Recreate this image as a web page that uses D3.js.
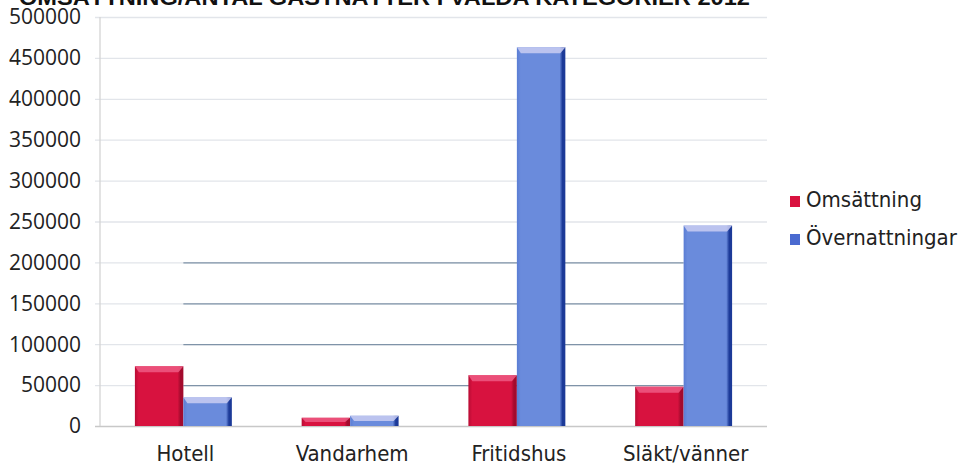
<!DOCTYPE html>
<html>
<head>
<meta charset="utf-8">
<script src="https://cdn.jsdelivr.net/npm/d3@7"></script>
<style>
  body { margin: 0; background: #fff; }
  svg { display: block; }
</style>
</head>
<body>
<div id="chart"></div>
<script>
// data
const categories = ["Hotell", "Vandarhem", "Fritidshus", "Släkt/vänner"];
const omsattning = [73000, 10000, 62000, 48000];
const overnattningar = [35000, 12500, 463000, 245000];
const seriesNames = ["Omsättning", "Övernattningar"];
const yTicks = [0, 50000, 100000, 150000, 200000, 250000, 300000, 350000, 400000, 450000, 500000];
const darkGridTicks = [50000, 100000, 150000, 200000];
const title = "OMSÄTTNING/ANTAL GÄSTNÄTTER I VALDA KATEGORIER 2012";

const width = 961, height = 465;
const margin = {top: 17, right: 194, bottom: 39, left: 100};

const svg = d3.select("#chart").append("svg")
    .attr("width", width)
    .attr("height", height);

const defs = svg.append("defs");

// horizontal shading for the bar faces
function faceGradient(id, edgeL, mid, edgeR) {
    let g = defs.append("linearGradient").attr("id", id)
        .attr("x1", 0).attr("x2", 1).attr("y1", 0).attr("y2", 0);
    g.append("stop").attr("offset", "0%").attr("stop-color", edgeL);
    g.append("stop").attr("offset", "8%").attr("stop-color", mid);
    g.append("stop").attr("offset", "88%").attr("stop-color", mid);
    g.append("stop").attr("offset", "94%").attr("stop-color", edgeR);
    g.append("stop").attr("offset", "100%").attr("stop-color", edgeR);
}
faceGradient("redFace", "#b80c34", "#d8123f", "#a30a2d");
faceGradient("blueFace", "#5a7dd4", "#6a8bdc", "#1c3a98");

const colors = {
    red: {face: "url(#redFace)", top: "#ee5a84", solid: "#d9123f"},
    blue: {face: "url(#blueFace)", top: "#c9ccf2", solid: "#4a6ad0"}
};

const x = d3.scaleBand()
    .domain(categories)
    .range([margin.left, width - margin.right])
    .paddingInner(0)
    .paddingOuter(0);

const xSeries = d3.scaleBand()
    .domain(seriesNames)
    .range([0, x.bandwidth()])
    .paddingOuter(0.72)
    .paddingInner(0);

const y = d3.scaleLinear()
    .domain([0, 500000])
    .range([height - margin.bottom, margin.top]);

// light gridlines
svg.append("g").selectAll("line")
    .data(yTicks)
    .join("line")
    .attr("x1", margin.left - 5)
    .attr("x2", width - margin.right)
    .attr("y1", d => y(d) + 0.5)
    .attr("y2", d => y(d) + 0.5)
    .attr("stroke", d => d === 0 ? "#c8c8c8" : "#e2e5ea")
    .attr("stroke-width", 1.3);

// darker scanned segments of the lower gridlines
const xStart = x(categories[0]) + x.bandwidth() / 2;
const xEnd = x(categories[categories.length - 1]) + x.bandwidth() / 2;
svg.append("g").selectAll("line")
    .data(darkGridTicks)
    .join("line")
    .attr("x1", xStart)
    .attr("x2", xEnd)
    .attr("y1", d => y(d) + 0.5)
    .attr("y2", d => y(d) + 0.5)
    .attr("stroke", "#7f93a8")
    .attr("stroke-width", 1.3);

// y axis line
svg.append("line")
    .attr("x1", margin.left).attr("x2", margin.left)
    .attr("y1", y(500000)).attr("y2", y(0))
    .attr("stroke", "#d4d4d4")
    .attr("stroke-width", 1.3);

// y tick labels
svg.append("g").selectAll("text")
    .data(yTicks)
    .join("text")
    .attr("x", 81)
    .attr("y", d => y(d))
    .attr("dy", "0.35em")
    .attr("text-anchor", "end")
    .attr("font-family", "Open Sans")
    .attr("font-size", 21)
    .attr("fill", "#222")
    .text(d => d);

// bars
const rows = categories.map((c, i) => ({cat: c, values: [
    {name: seriesNames[0], value: omsattning[i], col: colors.red},
    {name: seriesNames[1], value: overnattningar[i], col: colors.blue}
]}));

const groups = svg.append("g").selectAll("g")
    .data(rows)
    .join("g")
    .attr("transform", d => `translate(${x(d.cat)},0)`);

groups.each(function (d) {
    let g = d3.select(this);
    d.values.forEach(v => {
        let bx = xSeries(v.name), bw = xSeries.bandwidth();
        let top = y(v.value), bottom = y(0);
        let h = bottom - top;
        g.append("rect")
            .attr("x", bx).attr("y", top)
            .attr("width", bw).attr("height", h)
            .attr("fill", v.col.face);
        // bevelled cap
        let cap = Math.min(6, h / 2);
        g.append("path")
            .attr("d", `M${bx},${top} L${bx + bw},${top} L${bx + bw - 5},${top + cap} L${bx + 4},${top + cap} Z`)
            .attr("fill", v.col.top)
            .attr("opacity", 0.85);
    });
});

// category labels
svg.append("g").selectAll("text")
    .data(categories)
    .join("text")
    .attr("x", d => x(d) + x.bandwidth() / 2 + 2)
    .attr("y", 461)
    .attr("text-anchor", "middle")
    .attr("font-family", "DejaVu Sans Condensed")
    .attr("font-size", 22)
    .attr("fill", "#222")
    .text(d => d);

// legend
const legend = svg.append("g").selectAll("g")
    .data(seriesNames)
    .join("g")
    .attr("transform", (d, i) => `translate(790,${207 + i * 38})`);

legend.append("rect")
    .attr("x", 0).attr("y", -11)
    .attr("width", 10).attr("height", 11)
    .attr("fill", (d, i) => i === 0 ? colors.red.solid : colors.blue.solid);

legend.append("text")
    .attr("x", 16)
    .attr("y", 0)
    .attr("font-family", "DejaVu Sans Condensed")
    .attr("font-size", 22)
    .attr("fill", "#222")
    .text(d => d);

// title, cut at the top edge as in the scan
svg.append("text")
    .attr("x", 19)
    .attr("y", 5)
    .attr("font-family", "Liberation Sans")
    .attr("font-weight", "bold")
    .attr("font-size", 22)
    .attr("textLength", 731)
    .attr("lengthAdjust", "spacingAndGlyphs")
    .attr("fill", "#111")
    .text(title);
</script>
</body>
</html>
